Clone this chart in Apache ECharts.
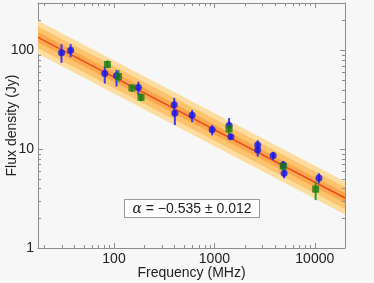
<!DOCTYPE html>
<html><head><meta charset="utf-8">
<script src="https://cdn.jsdelivr.net/npm/echarts@6/dist/echarts.min.js"></script>
<style>html,body{margin:0;padding:0;background:#f7f7f7}#c{width:374px;height:283px}</style>
</head><body><div id="c"></div>
<script>
// ---- data ----
const blueFreq = [30, 37, 81, 106, 175, 398, 404, 600, 950, 1400, 1460, 2700, 2700, 3850, 4850, 4950, 11000];
const blueFlux = [94, 100, 58, 55, 42, 28, 23, 22, 15.7, 17.3, 13.3, 11.0, 9.8, 8.6, 6.9, 5.7, 5.1];
const blueLo   = [74.5, 85, 46, 43, 35, 24, 17.5, 18.7, 13.8, 14.5, 12.5, 10.0, 8.4, 7.7, 6.3, 5.06, 4.5];
const blueHi   = [115, 115, 68, 63, 48, 33, 25, 24.8, 17.5, 20.6, 14.2, 12.3, 10.6, 9.4, 7.6, 6.3, 5.7];

const greenFreq = [86, 111, 151, 186, 1400, 4850, 10200];
const greenFlux = [71.7, 54.2, 41.5, 33.3, 16.0, 6.7, 3.94];
const greenLo   = [65.8, 47.5, 37.8, 30.5, 14.1, 6.2, 3.05];
const greenHi   = [79, 62.8, 45, 36.6, 17.8, 7.3, 4.67];

// fitted power law (alpha = -0.535) end points, and log10 half-widths of the shaded bands
const fitFreq = [17.5, 20000];
const fitFlux = [135, 3.2];
const bandHalfWidths = [0.167, 0.11, 0.05];
const bandColors = ['#fddca0', '#fcc26c', '#f9a84e'];

const xTickLabels = [100, 1000, 10000];
const yTickLabels = [1, 10, 100];
const xRange = [17.5, 20000];
const yRange = [1, 300];
const annotation = '{a|α} = −0.535 ± 0.012';

// ---- chart ----
const FONT = 'Liberation Sans, Arial, sans-serif';
const AX = '#8c8c8c';
const xMinor = [], yMinor = [];
for (let d = 10; d <= 10000; d *= 10) for (let k = 2; k <= 9; k++) {
  const v = d * k; if (v > xRange[0] && v < xRange[1]) xMinor.push(v);
}
for (let d = 1; d <= 100; d *= 10) for (let k = 2; k <= 9; k++) {
  const v = d * k; if (v > yRange[0] && v < yRange[1]) yMinor.push(v);
}
function isShown(v, list) { return list.some(t => Math.abs(Math.log10(v) - Math.log10(t)) < 1e-6); }
const px = v => Math.round(v) + 0.5;

function tickLine(x1, y1, x2, y2) {
  return {type: 'line', shape: {x1, y1, x2, y2}, style: {stroke: AX, lineWidth: 1}};
}

const chart = echarts.init(document.getElementById('c'), null, {renderer: 'canvas'});
const axisCommon = {
  type: 'log', logBase: 10,
  axisLine: {show: true, lineStyle: {color: AX, width: 1}},
  axisTick: {show: true, inside: true, length: 5, lineStyle: {color: AX}},
  splitLine: {show: false}, minorTick: {show: false}
};
chart.setOption({
  backgroundColor: '#f7f7f7',
  animation: false,
  grid: {left: 38, right: 29, top: 3, bottom: 35, containLabel: false, outerBoundsMode: 'none'},
  xAxis: [
    Object.assign({}, axisCommon, {
      min: xRange[0], max: xRange[1], position: 'bottom',
      axisLabel: {margin: 4, fontSize: 14, color: '#222', fontFamily: FONT,
        formatter: v => isShown(v, xTickLabels) ? String(Math.round(v)) : ''},
      name: 'Frequency (MHz)', nameLocation: 'middle', nameGap: 18, nameMoveOverlap: false,
      nameTextStyle: {fontSize: 14, color: '#222', fontFamily: FONT}
    }),
    Object.assign({}, axisCommon, {min: xRange[0], max: xRange[1], position: 'top', axisLabel: {show: false}})
  ],
  yAxis: [
    Object.assign({}, axisCommon, {
      min: yRange[0], max: yRange[1], position: 'left',
      axisLabel: {margin: 4, fontSize: 14, color: '#222', fontFamily: FONT,
        formatter: v => isShown(v, yTickLabels) ? String(Math.round(v)) : ''},
      name: 'Flux density (Jy)', nameLocation: 'middle', nameGap: 19, nameMoveOverlap: false,
      nameTextStyle: {fontSize: 14, color: '#222', fontFamily: FONT}
    }),
    Object.assign({}, axisCommon, {min: yRange[0], max: yRange[1], position: 'right', axisLabel: {show: false}})
  ],
  series: [
    { // confidence bands
      type: 'custom', clip: true, z: 1, silent: true,
      data: bandHalfWidths.map((w, i) => [fitFreq[0], fitFlux[0], w, i]),
      encode: {x: 0, y: 1},
      renderItem: (params, api) => {
        const w = api.value(2), i = api.value(3), f = Math.pow(10, w);
        const pts = [
          api.coord([fitFreq[0], fitFlux[0] * f]), api.coord([fitFreq[1], fitFlux[1] * f]),
          api.coord([fitFreq[1], fitFlux[1] / f]), api.coord([fitFreq[0], fitFlux[0] / f])
        ];
        return {type: 'polygon', shape: {points: pts}, style: {fill: bandColors[i]}};
      }
    },
    { // fit line
      type: 'line', z: 2, symbol: 'none', silent: true,
      data: fitFreq.map((f, i) => [f, fitFlux[i]]),
      lineStyle: {color: '#ef4a1c', width: 1.5}
    },
    { // blue error bars
      type: 'custom', z: 3, silent: true,
      data: blueFreq.map((f, i) => [f, blueFlux[i], blueLo[i], blueHi[i]]),
      encode: {x: 0, y: [1, 2, 3]},
      renderItem: (params, api) => {
        const a = api.coord([api.value(0), api.value(2)]), b = api.coord([api.value(0), api.value(3)]);
        return {type: 'line', shape: {x1: a[0], y1: a[1], x2: b[0], y2: b[1]}, style: {stroke: '#3b3bf5', lineWidth: 2}};
      }
    },
    { // green error bars
      type: 'custom', z: 3, silent: true,
      data: greenFreq.map((f, i) => [f, greenFlux[i], greenLo[i], greenHi[i]]),
      encode: {x: 0, y: [1, 2, 3]},
      renderItem: (params, api) => {
        const a = api.coord([api.value(0), api.value(2)]), b = api.coord([api.value(0), api.value(3)]);
        return {type: 'line', shape: {x1: a[0], y1: a[1], x2: b[0], y2: b[1]}, style: {stroke: '#2f9a2a', lineWidth: 2}};
      }
    },
    {
      type: 'scatter', z: 4, symbol: 'circle', symbolSize: 7, silent: true,
      data: blueFreq.map((f, i) => [f, blueFlux[i]]),
      itemStyle: {color: '#1414e6'}
    },
    {
      type: 'scatter', z: 5, symbol: 'rect', symbolSize: 7, silent: true,
      data: greenFreq.map((f, i) => [f, greenFlux[i]]),
      itemStyle: {color: '#1c7a14'}
    },
    { // minor x ticks (bottom & top)
      type: 'custom', z: 6, silent: true, clip: false,
      data: xMinor.map(v => [v, yRange[0]]), encode: {x: 0, y: 1},
      renderItem: (params, api) => {
        const b = api.coord([api.value(0), yRange[0]]), t = api.coord([api.value(0), yRange[1]]);
        const x = px(b[0]);
        return {type: 'group', children: [tickLine(x, b[1], x, b[1] - 3), tickLine(x, t[1], x, t[1] + 3)]};
      }
    },
    { // minor y ticks (left & right)
      type: 'custom', z: 6, silent: true, clip: false,
      data: yMinor.map(v => [xRange[0], v]), encode: {x: 0, y: 1},
      renderItem: (params, api) => {
        const l = api.coord([xRange[0], api.value(1)]), r = api.coord([xRange[1], api.value(1)]);
        const y = px(l[1]);
        return {type: 'group', children: [tickLine(l[0], y, l[0] + 3, y), tickLine(r[0], y, r[0] - 3, y)]};
      }
    }
  ],
  graphic: [{
    type: 'group', left: 124, top: 199, z: 10,
    children: [
      {type: 'rect', shape: {x: 0.5, y: 0.5, width: 135, height: 18}, style: {fill: '#ffffff', stroke: '#9a9a9a', lineWidth: 1}},
      {type: 'text', x: 68, y: 10, style: {
        text: annotation, align: 'center', verticalAlign: 'middle',
        font: '14px ' + FONT, fill: '#222',
        rich: {a: {fontStyle: 'italic', fontFamily: 'DejaVu Serif', fontSize: 14, fill: '#222'}}
      }}
    ]
  }]
});
</script></body></html>
